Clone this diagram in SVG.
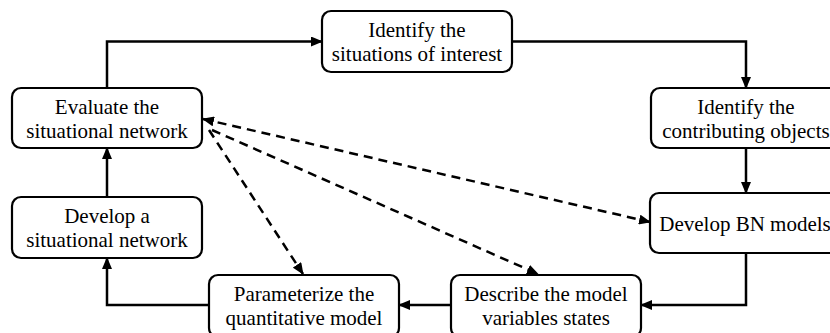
<svg xmlns="http://www.w3.org/2000/svg" width="830" height="333" viewBox="0 0 830 333">
<defs>
<marker id="arr" markerUnits="userSpaceOnUse" markerWidth="12" markerHeight="10" refX="11" refY="5" orient="auto-start-reverse" viewBox="0 0 12 10">
<path d="M0,0 L12,5 L0,10 z" fill="#000"/>
</marker>
<style>
.box{fill:#fff;stroke:#000;stroke-width:2.2}
.t{font-size:21px;fill:#000;text-anchor:middle}
.c{fill:none;stroke:#000;stroke-width:2.5}
.d{fill:none;stroke:#000;stroke-width:2.5;stroke-dasharray:9,6}
</style>
</defs>
<rect width="830" height="333" fill="#fff"/>
<g id="connectors">
<path class="c" d="M107,88 V41.5 H322" marker-end="url(#arr)"/>
<path class="c" d="M512,41.5 H746 V88" marker-end="url(#arr)"/>
<path class="c" d="M746,148 V193" marker-end="url(#arr)"/>
<path class="c" d="M746,253 V305 H641" marker-end="url(#arr)"/>
<path class="c" d="M451,305 H399" marker-end="url(#arr)"/>
<path class="c" d="M209,305 H107 V258" marker-end="url(#arr)"/>
<path class="c" d="M107,197 V148" marker-end="url(#arr)"/>
<path class="d" d="M203,119 L650,222" marker-start="url(#arr)" marker-end="url(#arr)"/>
<path class="d" d="M212,130 L538,274" marker-end="url(#arr)"/>
<path class="d" d="M209,130 L303,274" marker-end="url(#arr)"/>
</g>
<g font-family="'Liberation Serif', 'DejaVu Serif', serif">
<g id="n_situations">
<rect class="box" x="322" y="11" width="190" height="61" rx="9"/>
<text class="t" x="417" y="37">Identify the</text>
<text class="t" x="417" y="61">situations of interest</text>
</g>
<g id="n_evaluate">
<rect class="box" x="12" y="88" width="190" height="60" rx="9"/>
<text class="t" x="107" y="114">Evaluate the</text>
<text class="t" x="107" y="138">situational network</text>
</g>
<g id="n_contributing">
<rect class="box" x="651" y="88" width="190" height="60" rx="9"/>
<text class="t" x="746" y="114">Identify the</text>
<text class="t" x="746" y="138">contributing objects</text>
</g>
<g id="n_develop_sn">
<rect class="box" x="12" y="197" width="190" height="61" rx="9"/>
<text class="t" x="107" y="223">Develop a</text>
<text class="t" x="107" y="247">situational network</text>
</g>
<g id="n_bn">
<rect class="box" x="650" y="193" width="190" height="60" rx="9"/>
<text class="t" x="745" y="231">Develop BN models</text>
</g>
<g id="n_param">
<rect class="box" x="209" y="275" width="190" height="62" rx="9"/>
<text class="t" x="304" y="301">Parameterize the</text>
<text class="t" x="304" y="325">quantitative model</text>
</g>
<g id="n_describe">
<rect class="box" x="451" y="275" width="190" height="62" rx="9"/>
<text class="t" x="546" y="301">Describe the model</text>
<text class="t" x="546" y="325">variables states</text>
</g>
</g>
</svg>
